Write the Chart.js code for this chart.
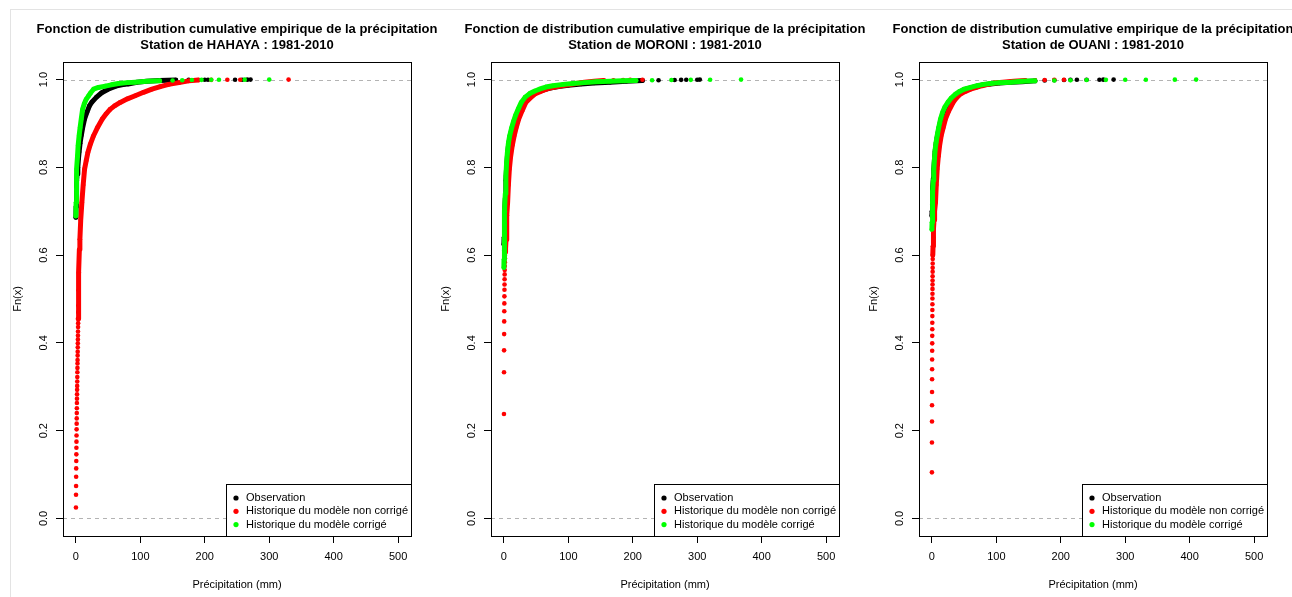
<!DOCTYPE html>
<html>
<head>
<meta charset="utf-8">
<script src="https://cdn.jsdelivr.net/npm/chart.js@4.4.0/dist/chart.umd.min.js"></script>
<style>
  body { margin: 0; background: #fff; }
  #wrap { position: relative; width: 1292px; height: 597px; overflow: hidden; }
  #frame { position: absolute; left: 10px; top: 9px; width: 1300px; height: 600px; border: 1px solid #e3e3e3; }
  canvas { position: absolute; top: 0; }
</style>
</head>
<body>
<div id="wrap">
  <div id="frame"></div>
  <canvas id="c0" width="500" height="597" style="left:-40px"></canvas>
  <canvas id="c1" width="500" height="597" style="left:388px"></canvas>
  <canvas id="c2" width="500" height="597" style="left:816px"></canvas>
</div>
<script>
// axes
const xTicks = [0, 100, 200, 300, 400, 500];
const yTicks = [0, 0.2, 0.4, 0.6, 0.8, 1.0];
const yTickLabels = ['0.0', '0.2', '0.4', '0.6', '0.8', '1.0'];
const refLines = [0, 1];
const stations = ['HAHAYA', 'MORONI', 'OUANI'];
const seriesNames = ['Observation', 'Historique du modèle non corrigé', 'Historique du modèle corrigé'];
const seriesColors = ['#000000', '#ff0000', '#00ff00'];

// HAHAYA  [precip, Fn]
const hahayaObsCurve = [[0,0.686],[0.3,0.71],[0.6,0.73],[1,0.75],[1.5,0.77],[2,0.785],[3,0.80],[4,0.82],[5,0.835],[6.5,0.855],[8.3,0.872],[10.5,0.89],[13.5,0.91],[17,0.925],[21,0.94],[25,0.949],[32,0.96],[40,0.97],[50,0.978],[62,0.985],[75,0.989],[81,0.99],[95,0.994],[110,0.996],[130,0.998],[155,0.999]];
const hahayaObsDots = [[175,0.9993],[200,0.9994],[205,0.9995],[247,0.9996],[258,0.9997],[266,0.9998],[271,0.9999]];
const hahayaRawLow = [[0.1,0.025],[0.2,0.054],[0.3,0.074],[0.4,0.095],[0.5,0.114],[0.6,0.131],[0.7,0.146],[0.8,0.161],[0.9,0.175],[1.0,0.189],[1.1,0.203],[1.2,0.216],[1.3,0.228],[1.4,0.240],[1.5,0.251],[1.6,0.263],[1.7,0.273],[1.8,0.283],[1.9,0.293],[2.0,0.302],[2.1,0.312],[2.2,0.322],[2.3,0.333],[2.4,0.343],[2.5,0.353],[2.6,0.361],[2.7,0.371],[2.8,0.380],[2.9,0.390],[3.0,0.399],[3.1,0.408],[3.2,0.417],[3.3,0.426],[3.4,0.436],[3.5,0.445]];
const hahayaRawCurve = [[3.6,0.455],[3.8,0.47],[4.0,0.485],[4.3,0.52],[4.7,0.56],[5.4,0.613],[6.2,0.636],[7.5,0.68],[9.3,0.72],[11.3,0.76],[13.5,0.796],[16,0.815],[18.6,0.834],[22.5,0.853],[27.4,0.872],[34,0.892],[41,0.91],[47,0.922],[53,0.932],[60,0.94],[68.8,0.948],[80,0.956],[92,0.963],[105,0.971],[118,0.978],[131,0.984],[144,0.989],[160,0.993],[175,0.997],[190,0.999]];
const hahayaRawDots = [[210,0.9993],[235,0.9995],[255,0.9997],[330,0.9999]];
const hahayaBcCurve = [[0,0.689],[0.3,0.72],[0.7,0.75],[1,0.77],[1.5,0.796],[2.5,0.825],[3.5,0.85],[5,0.872],[6.5,0.89],[8.3,0.91],[10.4,0.932],[13,0.945],[16,0.955],[19.7,0.963],[23,0.97],[27.4,0.978],[35,0.982],[45.5,0.985],[55,0.988],[66,0.991],[80,0.993],[92,0.994],[110,0.996],[130,0.997]];
const hahayaBcDots = [[150,0.998],[165,0.9985],[180,0.999],[195,0.9993],[210,0.9995],[222,0.9997],[262,0.9998],[300,0.9999]];

// MORONI
const moroniObsCurve = [[0,0.625],[0.3,0.64],[0.6,0.655],[1,0.67],[1.5,0.695],[2.2,0.73],[3.1,0.77],[4.2,0.80],[5.5,0.826],[7,0.848],[9,0.866],[12,0.885],[15,0.90],[18,0.912],[22,0.925],[27,0.94],[33,0.953],[40,0.962],[48,0.969],[58,0.975],[70,0.98],[85,0.984],[100,0.987],[120,0.99],[140,0.992],[165,0.994],[190,0.996],[215,0.998]];
const moroniObsDots = [[240,0.9985],[265,0.999],[275,0.9993],[283,0.9995],[300,0.9997],[304,0.9999]];
const moroniRawLow = [[0.1,0.238],[0.2,0.333],[0.3,0.383],[0.4,0.420],[0.5,0.449],[0.6,0.472],[0.7,0.490],[0.8,0.506],[0.9,0.521],[1.0,0.533],[1.1,0.545],[1.2,0.556],[1.3,0.566],[1.4,0.575],[1.5,0.584],[1.6,0.593],[1.7,0.600]];
const moroniRawCurve = [[1.8,0.607],[2.6,0.615],[3.3,0.635],[4,0.66],[4.8,0.69],[5.8,0.72],[7,0.76],[8.5,0.796],[10.5,0.825],[13,0.85],[16,0.872],[19,0.89],[23,0.91],[28,0.928],[34,0.948],[41,0.958],[48,0.967],[57,0.973],[66,0.978],[76,0.982],[87,0.985],[100,0.988],[112,0.991],[125,0.994],[140,0.996],[155,0.998]];
const moroniRawDots = [[170,0.9985],[185,0.999],[196,0.9995],[215,0.9997]];
const moroniBcCurve = [[0,0.572],[0.2,0.59],[0.4,0.61],[0.6,0.63],[0.8,0.65],[1,0.67],[1.5,0.70],[2.2,0.74],[3.1,0.78],[4.2,0.81],[5.5,0.835],[7,0.855],[9,0.872],[12,0.89],[15,0.905],[18,0.918],[22,0.932],[27,0.948],[33,0.96],[40,0.968],[48,0.974],[55,0.978],[65,0.983],[76,0.986],[92,0.989],[107,0.991],[125,0.993],[143,0.995],[165,0.996],[184,0.997],[205,0.998]];
const moroniBcDots = [[230,0.9985],[260,0.999],[290,0.9993],[320,0.9996],[368,0.9999]];

// OUANI
const ouaniObsCurve = [[0,0.69],[0.3,0.70],[0.6,0.715],[1,0.73],[1.5,0.75],[2.2,0.775],[3,0.796],[4,0.818],[5,0.836],[6.5,0.853],[8.2,0.868],[10.5,0.886],[13.4,0.905],[16.5,0.92],[20,0.933],[24.8,0.945],[30,0.955],[36.7,0.964],[43,0.971],[50,0.977],[60,0.981],[70,0.985],[80,0.988],[91,0.99],[105,0.992],[122,0.994],[140,0.995],[160,0.997]];
const ouaniObsDots = [[175,0.998],[190,0.9985],[205,0.999],[215,0.9993],[225,0.9995],[240,0.9996],[260,0.9997],[266,0.9998],[282,0.9999]];
const ouaniRawLow = [[0.05,0.105],[0.1,0.173],[0.15,0.221],[0.2,0.258],[0.25,0.288],[0.3,0.317],[0.35,0.340],[0.4,0.362],[0.45,0.382],[0.5,0.399],[0.55,0.416],[0.6,0.431],[0.65,0.446],[0.7,0.461],[0.75,0.475],[0.8,0.488],[0.85,0.501],[0.9,0.512],[0.95,0.523],[1.0,0.533],[1.05,0.542],[1.1,0.552],[1.15,0.562],[1.2,0.571],[1.25,0.581],[1.3,0.591]];
const ouaniRawCurve = [[1.4,0.60],[1.8,0.62],[2.2,0.64],[2.7,0.66],[3.3,0.68],[4.2,0.70],[5.6,0.72],[6.8,0.76],[8.2,0.796],[10,0.825],[12,0.85],[14.4,0.872],[17.5,0.89],[21,0.91],[26,0.928],[33,0.948],[38,0.958],[44.4,0.967],[52,0.973],[60,0.978],[69,0.982],[78,0.986],[87,0.989],[96,0.992],[110,0.994],[127,0.996],[145,0.998]];
const ouaniRawDots = [[160,0.9985],[175,0.999],[190,0.9995],[205,0.9997]];
const ouaniBcCurve = [[0,0.659],[0.3,0.675],[0.6,0.69],[1,0.72],[1.5,0.745],[2.2,0.77],[3,0.796],[4,0.82],[5,0.84],[6.5,0.857],[8.2,0.872],[10.5,0.89],[13.4,0.91],[16.5,0.925],[20,0.937],[24.8,0.948],[30,0.958],[36.7,0.967],[43,0.973],[49.7,0.978],[60,0.982],[70,0.986],[80,0.989],[91,0.991],[105,0.993],[122,0.994],[140,0.996],[160,0.997]];
const ouaniBcDots = [[190,0.998],[215,0.9985],[240,0.999],[270,0.9993],[300,0.9995],[332,0.9997],[377,0.9998],[410,0.9999]];

const FONT = "'Liberation Sans', Arial, sans-serif";
Chart.defaults.font.family = FONT;
Chart.defaults.color = '#000';

const toXY = pts => pts.map(p => ({ x: p[0], y: p[1] }));

function curveSet(pts, color) {
    return {
        data: toXY(pts), showLine: true, borderColor: color, borderWidth: 5,
        borderJoinStyle: 'round', borderCapStyle: 'round', tension: 0,
        pointRadius: 2.3, pointBackgroundColor: color, pointBorderWidth: 0
    };
}
function dotSet(pts, color) {
    return { data: toXY(pts), showLine: false, pointRadius: 2.3, pointBackgroundColor: color, pointBorderWidth: 0 };
}

// box, dashed 0/1 lines, title and legend in R style
const rStyle = {
    id: 'rStyle',
    beforeDatasetsDraw(chart) {
        const { ctx, chartArea: a, scales: { y } } = chart;
        ctx.save();
        ctx.strokeStyle = '#b3b3b3';
        ctx.lineWidth = 1;
        ctx.setLineDash([4, 4]);
        refLines.forEach(v => {
            const py = Math.round(y.getPixelForValue(v)) + 0.5;
            ctx.beginPath();
            ctx.moveTo(a.left, py);
            ctx.lineTo(a.right, py);
            ctx.stroke();
        });
        ctx.restore();
    },
    afterDraw(chart, args, opts) {
        const { ctx, chartArea: a } = chart;
        ctx.save();
        ctx.strokeStyle = '#000';
        ctx.lineWidth = 1;
        ctx.strokeRect(a.left + 0.5, a.top + 0.5, a.right - a.left, a.bottom - a.top);

        // title
        const cx = (a.left + a.right) / 2;
        ctx.fillStyle = '#000';
        ctx.font = 'bold 13px ' + FONT;
        ctx.textAlign = 'center';
        ctx.textBaseline = 'middle';
        ctx.fillText('Fonction de distribution cumulative empirique de la précipitation', cx, 29);
        ctx.fillText('Station de ' + opts.station + ' : 1981-2010', cx, 45);

        // legend
        const w = 185, h = 52;
        const lx = a.right - w, ly = a.bottom - h;
        ctx.fillStyle = '#fff';
        ctx.fillRect(lx, ly, w, h);
        ctx.strokeRect(Math.round(lx) + 0.5, Math.round(ly) + 0.5, w, h);
        ctx.font = '11px ' + FONT;
        ctx.textAlign = 'left';
        seriesNames.forEach((name, i) => {
            const ry = ly + 14 + i * 13.3;
            ctx.fillStyle = seriesColors[i];
            ctx.beginPath();
            ctx.arc(lx + 10, ry, 2.6, 0, Math.PI * 2);
            ctx.fill();
            ctx.fillStyle = '#000';
            ctx.fillText(name, lx + 20, ry);
        });
        ctx.restore();
    }
};

function makeChart(id, station, obsCurve, obsDots, rawLow, rawCurve, rawDots, bcCurve, bcDots) {
    const axisGrid = { drawOnChartArea: false, drawTicks: true, tickLength: 7, tickColor: '#000', tickWidth: 1 };
    new Chart(document.getElementById(id), {
        type: 'scatter',
        data: {
            datasets: [
                curveSet(bcCurve, seriesColors[2]),
                dotSet(bcDots, seriesColors[2]),
                curveSet(rawCurve, seriesColors[1]),
                dotSet(rawLow.concat(rawDots), seriesColors[1]),
                curveSet(obsCurve, seriesColors[0]),
                dotSet(obsDots, seriesColors[0])
            ]
        },
        options: {
            responsive: false,
            animation: false,
            events: [],
            layout: { padding: { top: 62, right: 49, left: 40, bottom: 0 } },
            plugins: {
                legend: { display: false },
                tooltip: { enabled: false },
                rStyle: { station: station }
            },
            scales: {
                x: {
                    type: 'linear', min: -20, max: 520,
                    afterBuildTicks: s => { s.ticks = xTicks.map(v => ({ value: v })); },
                    afterFit: s => { s.height = 61; },
                    grid: axisGrid,
                    border: { display: true, color: '#000', width: 1 },
                    ticks: { font: { size: 11 }, padding: 7, maxRotation: 0, autoSkip: false },
                    title: { display: true, text: 'Précipitation (mm)', font: { size: 11 }, padding: { top: 0, bottom: 5 } }
                },
                y: {
                    type: 'linear', min: -0.04, max: 1.04,
                    afterBuildTicks: s => { s.ticks = yTicks.map(v => ({ value: v })); },
                    afterFit: s => { s.width = 63; },
                    grid: axisGrid,
                    border: { display: true, color: '#000', width: 1 },
                    ticks: {
                        font: { size: 11 }, minRotation: 90, maxRotation: 90, crossAlign: 'center',
                        padding: 4, autoSkip: false,
                        callback: (v, i) => yTickLabels[i]
                    },
                    title: { display: true, text: 'Fn(x)', font: { size: 11 }, padding: { top: 11, bottom: 0 } }
                }
            }
        },
        plugins: [rStyle]
    });
}

makeChart('c0', stations[0], hahayaObsCurve, hahayaObsDots, hahayaRawLow, hahayaRawCurve, hahayaRawDots, hahayaBcCurve, hahayaBcDots);
makeChart('c1', stations[1], moroniObsCurve, moroniObsDots, moroniRawLow, moroniRawCurve, moroniRawDots, moroniBcCurve, moroniBcDots);
makeChart('c2', stations[2], ouaniObsCurve, ouaniObsDots, ouaniRawLow, ouaniRawCurve, ouaniRawDots, ouaniBcCurve, ouaniBcDots);
</script>
</body>
</html>
